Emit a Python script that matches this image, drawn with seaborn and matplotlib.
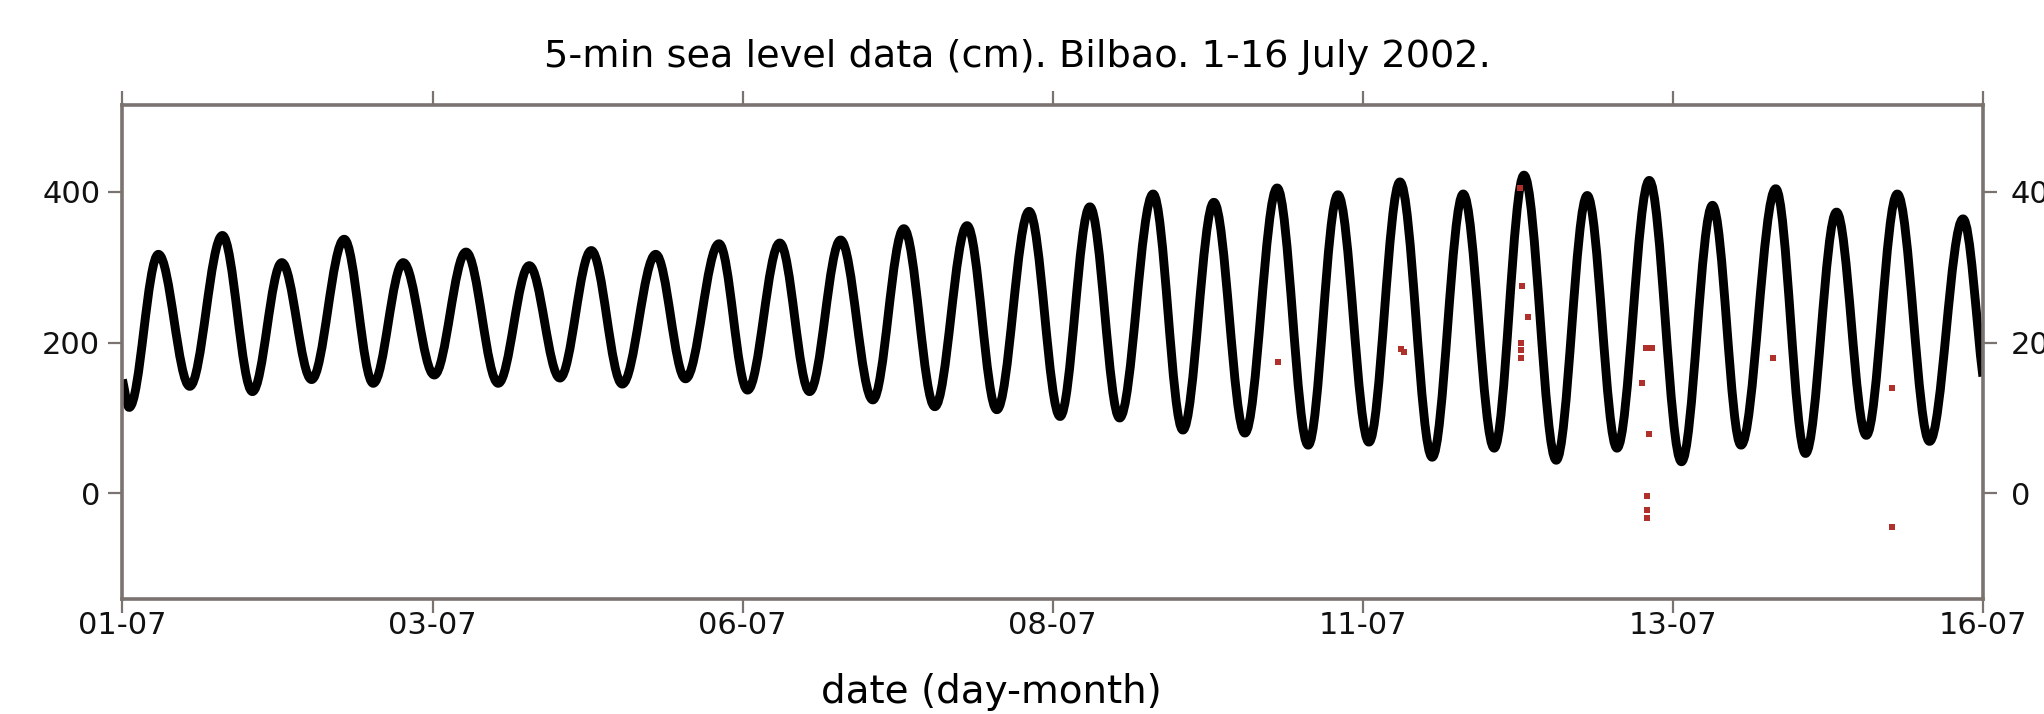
import numpy as np
import pandas as pd
import matplotlib
matplotlib.use("Agg")
import matplotlib.pyplot as plt
from matplotlib.path import Path
from matplotlib.patches import PathPatch
import seaborn as sns

# High and low waters (day of July 2002, sea level in cm)
high_day = [1.29, 1.806, 2.285, 2.788, 3.264, 3.77, 4.28, 4.78, 5.30, 5.81,
            6.30, 6.79, 7.30, 7.81, 8.31, 8.80, 9.31, 9.80, 10.31, 10.80,
            11.30, 11.81, 12.30, 12.81, 13.31, 13.82, 14.33, 14.82, 15.31, 15.84]
high_cm = [317, 342, 306, 337, 306, 320, 302, 322, 317, 331,
           332, 336, 351, 355, 374, 380, 397, 386, 405, 396,
           413, 397, 422, 395, 415, 382, 404, 373, 397, 364]
low_day = [1.054, 1.543, 2.048, 2.525, 3.022, 3.514, 4.03, 4.527, 5.03, 5.54,
           6.04, 6.54, 7.05, 7.55, 8.05, 8.56, 9.04, 9.55, 10.05, 10.56,
           11.05, 11.56, 12.06, 12.56, 13.05, 13.57, 14.05, 14.57, 15.06, 15.57]
low_cm = [114, 142, 135, 151, 146, 157, 146, 153, 145, 152,
          137, 135, 124, 115, 111, 102, 100, 84, 80, 64,
          68, 48, 60, 44, 60, 42, 64, 53, 77, 69]

# first and last sample of the record
start_day, start_cm = 1.0, 151
end_day, end_cm = 16.0, 155

# flagged (spurious) values, drawn in red
flag_day = [10.32, 11.31, 11.33, 12.27, 12.28, 12.28, 12.285, 12.28, 12.33,
            13.28, 13.33, 13.25, 13.31, 13.29, 13.29, 13.29, 14.31, 15.27, 15.27]
flag_cm = [174, 192, 187, 405, 200, 190, 275, 180, 234,
           193, 193, 147, 79, -3, -22, -32, 180, 140, -44]

tick_days = [1, 3.5, 6, 8.5, 11, 13.5, 16]
tick_labels = ["01-07", "03-07", "06-07", "08-07", "11-07", "13-07", "16-07"]
level_ticks = [0, 200, 400]

extrema = pd.concat([
    pd.DataFrame({"day": high_day, "cm": high_cm}),
    pd.DataFrame({"day": low_day, "cm": low_cm}),
]).sort_values("day")
extrema["turn"] = True
ends = pd.DataFrame({"day": [start_day, end_day], "cm": [start_cm, end_cm], "turn": [False, False]})
record = pd.concat([ends.iloc[:1], extrema, ends.iloc[1:]], ignore_index=True)

# smooth tide curve: cubic segments with level tangents at each high/low water
k = 0.363
verts = [(record.day[0], record.cm[0])]
codes = [Path.MOVETO]
for i in range(len(record) - 1):
    x0, y0, t0 = record.day[i], record.cm[i], record.turn[i]
    x1, y1, t1 = record.day[i + 1], record.cm[i + 1], record.turn[i + 1]
    dx = x1 - x0
    c1 = (x0 + k * dx, y0) if t0 else (x0 + dx / 3, y0 + (y1 - y0) / 3)
    c2 = (x1 - k * dx, y1) if t1 else (x1 - dx / 3, y1 - (y1 - y0) / 3)
    verts += [c1, c2, (x1, y1)]
    codes += [Path.CURVE4] * 3

sns.set_theme(style="ticks")
plt.rcParams["font.family"] = ["DejaVu Sans"]

frame = "#7a7370"
fig = plt.figure(figsize=(20.44, 7.14), dpi=100)
ax = fig.add_axes([0.0599, 0.1611, 0.9102, 0.6918])

ax.add_patch(PathPatch(Path(verts, codes), fill=False, edgecolor="black",
                       lw=6.4, joinstyle="round", zorder=2))
sns.scatterplot(x=flag_day, y=flag_cm, ax=ax, color="#b0302c", s=24,
                marker="s", linewidth=0, zorder=3)

ax.set_xlim(1, 16)
ax.set_ylim(-140, 515)
ax.set_xticks(tick_days)
ax.set_xticklabels(tick_labels)
ax.set_yticks(level_ticks)

for side in ax.spines.values():
    side.set_color(frame)
    side.set_linewidth(2.6)
ax.tick_params(axis="x", which="both", direction="out", top=True, bottom=True,
               length=10, width=1.6, color=frame, labelsize=22, pad=-1, labelcolor="#111111")
ax.tick_params(axis="y", direction="out", length=10, width=1.6, color=frame,
               labelsize=22, pad=6, labelcolor="#111111")

ax2 = ax.twinx()
ax2.set_ylim(ax.get_ylim())
ax2.set_yticks(level_ticks)
for side in ax2.spines.values():
    side.set_visible(False)
ax2.tick_params(axis="y", direction="out", length=10, width=1.6, color=frame,
                labelsize=22, pad=10, labelcolor="#111111")

ax.set_title("5-min sea level data (cm). Bilbao. 1-16 July 2002.",
             fontsize=27.5, color="black", x=0.4813, y=1.078, pad=0)
ax.set_xlabel("date (day-month)", fontsize=28, color="black")
ax.xaxis.set_label_coords(0.467, -0.150)

fig.savefig("out.png", dpi=100)
